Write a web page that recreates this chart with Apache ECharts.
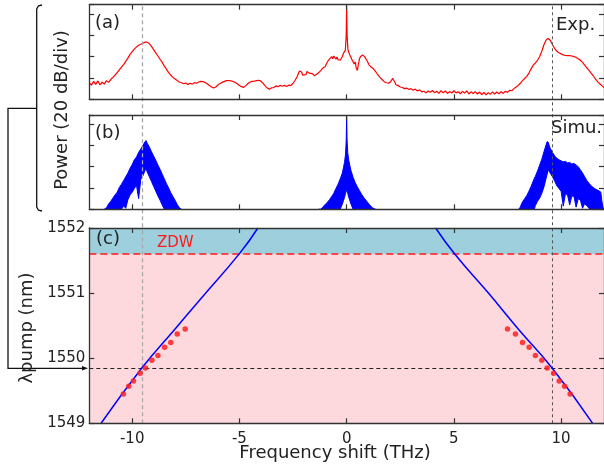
<!DOCTYPE html>
<html><head><meta charset="utf-8">
<script src="https://cdn.jsdelivr.net/npm/echarts@6/dist/echarts.min.js"></script>
<style>html,body{margin:0;padding:0;background:#fff}#c{width:604px;height:470px}</style>
</head><body><div id="c"></div>
<script>
// ---------- data ----------
const xTicks = [-10, -5, 0, 5, 10];
// (a) experimental spectrum: [frequency shift THz, power dB]
const expSpectrum = [
[-12.0,15.5],[-11.9,13.2],[-11.8,16.8],[-11.7,14.0],[-11.6,17.2],[-11.5,13.5],[-11.4,16.0],[-11.3,14.2],[-11.2,17.5],[-11.1,15.8],[-11.0,18.5],
[-10.9,20.5],[-10.8,22.5],[-10.7,25.0],[-10.6,27.5],[-10.5,30.0],[-10.4,32.5],[-10.3,35.5],[-10.2,38.5],[-10.1,42.0],[-10.0,44.5],[-9.9,47.0],[-9.8,49.0],[-9.7,50.5],[-9.6,51.5],[-9.5,52.5],[-9.4,53.5],[-9.35,54.0],[-9.3,53.5],[-9.2,52.0],[-9.1,49.5],[-9.0,46.5],[-8.9,43.5],[-8.8,40.5],[-8.7,37.5],[-8.6,34.5],[-8.5,31.0],[-8.4,28.0],[-8.3,25.0],[-8.2,22.5],[-8.1,20.5],[-8.0,19.0],[-7.9,17.5],[-7.8,16.2],[-7.7,15.5],
[-7.6,14.5],[-7.5,15.2],[-7.4,13.8],[-7.3,15.0],[-7.2,14.2],[-7.1,15.6],[-7.0,15.0],[-6.9,16.2],[-6.8,16.8],[-6.7,16.5],[-6.6,15.8],[-6.5,14.5],[-6.4,13.0],[-6.3,11.5],[-6.2,10.5],[-6.1,11.5],[-6.0,13.5],[-5.9,14.8],[-5.8,15.8],[-5.7,16.8],[-5.6,17.5],[-5.5,17.6],[-5.4,17.3],[-5.3,16.6],[-5.2,15.8],[-5.1,14.5],[-5.0,13.0],[-4.9,11.8],[-4.8,11.2],[-4.7,12.8],[-4.6,14.8],[-4.5,16.2],[-4.4,16.8],[-4.3,17.0],[-4.2,17.5],[-4.1,17.8],[-4.0,17.0],[-3.9,15.0],[-3.8,12.5],[-3.7,10.5],[-3.6,9.5],[-3.5,10.8],[-3.4,11.0],[-3.3,12.5],[-3.2,11.8],[-3.1,13.0],[-3.0,12.2],[-2.9,13.0],[-2.8,12.0],[-2.7,13.2],[-2.6,12.8],[-2.5,15.0],[-2.4,17.8],[-2.3,21.5],[-2.2,26.5],[-2.15,27.5],[-2.1,25.5],[-2.05,22.5],[-2.0,24.0],[-1.9,23.0],[-1.85,26.0],[-1.8,27.5],[-1.75,24.5],[-1.7,23.0],[-1.6,24.0],[-1.5,22.0],[-1.4,23.5],[-1.3,25.0],[-1.2,27.0],[-1.1,29.5],[-1.0,30.5],[-0.95,33.0],[-0.9,34.0],[-0.85,36.5],[-0.8,37.0],[-0.7,40.0],[-0.65,38.0],[-0.6,40.5],[-0.5,37.5],[-0.45,39.5],[-0.4,37.0],[-0.35,38.8],[-0.3,36.5],[-0.25,38.0],[-0.2,40.0],[-0.15,43.0],[-0.1,42.0],[-0.06,46.0],[-0.02,60.0],[0.0,87.0],[0.02,60.0],[0.06,46.5],[0.1,44.0],[0.15,41.5],[0.2,42.5],[0.25,37.0],[0.3,38.5],[0.35,33.0],[0.4,35.0],[0.45,29.0],[0.5,27.0],[0.55,33.0],[0.6,38.0],[0.65,40.0],[0.7,39.0],[0.75,41.5],[0.8,40.0],[0.85,39.5],[0.9,38.0],[0.95,36.0],[1.0,34.5],[1.05,32.0],[1.1,33.0],[1.15,30.0],[1.2,30.5],[1.25,28.5],[1.3,28.0],[1.35,26.0],[1.4,25.5],[1.45,23.0],[1.5,22.5],[1.55,20.5],[1.6,20.5],[1.65,18.5],[1.7,18.0],[1.75,16.5],[1.8,17.0],[1.85,15.5],[1.9,15.8],[1.95,15.0],[2.0,15.5],[2.05,16.5],[2.1,18.0],[2.15,19.5],[2.2,19.0],[2.25,16.0],[2.3,13.5],[2.4,13.0],[2.5,11.5],[2.6,11.0],[2.7,10.0],[2.8,10.5],[2.9,9.2],[3.0,10.0],[3.1,8.5],[3.2,9.5],[3.3,7.8],[3.4,8.8],[3.5,7.0],[3.6,7.5],[3.7,6.0],[3.8,7.8],[3.9,6.5],[4.0,8.2],[4.1,6.2],[4.2,7.5],[4.3,5.5],[4.4,8.0],[4.5,6.0],[4.6,7.8],[4.7,5.5],[4.8,7.2],[4.9,5.8],[5.0,8.0],[5.1,6.0],[5.2,7.0],[5.3,5.2],[5.4,7.5],[5.5,5.8],[5.6,7.8],[5.7,5.0],[5.8,7.0],[5.9,5.5],[6.0,7.2],[6.1,4.8],[6.2,6.8],[6.3,4.5],[6.4,6.5],[6.5,4.2],[6.6,6.2],[6.7,4.8],[6.8,7.0],[6.9,5.0],[7.0,6.8],[7.1,5.2],[7.2,7.0],[7.3,5.5],[7.4,7.5],[7.5,6.5],[7.6,8.5],[7.7,8.0],[7.8,10.0],[7.9,11.5],[8.0,13.0],[8.1,15.0],[8.2,17.5],[8.3,19.5],[8.4,21.5],[8.5,24.5],[8.6,28.5],[8.7,32.0],[8.8,34.0],[8.9,36.5],[9.0,40.0],[9.1,45.0],[9.2,51.0],[9.3,55.5],[9.4,57.0],[9.45,56.5],[9.5,55.0],[9.6,51.0],[9.7,47.5],[9.8,45.0],[9.9,43.5],[10.0,42.5],[10.1,41.5],[10.2,41.0],[10.3,40.8],[10.4,40.8],[10.5,40.5],[10.6,40.0],[10.7,39.2],[10.8,38.0],[10.9,36.5],[11.0,34.5],[11.1,32.0],[11.2,29.5],[11.3,27.0],[11.4,24.5],[11.5,22.0],[11.6,19.0],[11.7,16.5],[11.8,14.5],[11.9,12.8],[12.0,11.0]
];
// (b) simulated spectrum, drawn as the band between the lower and upper envelope of the dense noise
const simLeftFreq  = [-11.3,-11.2,-11.1,-11.0,-10.9,-10.8,-10.7,-10.6,-10.5,-10.4,-10.3,-10.2,-10.1,-10.0,-9.9,-9.8,-9.7,-9.6,-9.5,-9.4,-9.35,-9.3,-9.2,-9.1,-9.0,-8.9,-8.8,-8.7,-8.6,-8.5,-8.4,-8.3,-8.2,-8.1,-8.0,-7.9,-7.8,-7.7];
const simLeftUpper = [-2,1.5,5.0,7.5,10.5,13.5,16.0,20.5,23.5,27.0,30.5,34.0,38.5,42.0,46.5,49.0,53.5,56.5,60.0,63.5,64.5,62.0,58.5,54.0,50.0,46.0,41.5,37.5,33.0,28.5,24.0,20.0,15.5,12.0,8.5,4.5,1.5,-2];
const simLeftLower = [-5,-5,-5,-5,-5,-5,-5,-5,0,3,1,9,13.5,16,19.5,22.5,10,28,31.5,36.5,38,35,30.5,26,21.5,17,12.5,8.5,4,0,-5,-5,-5,-5,-5,-5,-5,-5];
const simCenterFreq  = [-1.3,-1.2,-1.1,-1.0,-0.9,-0.8,-0.7,-0.6,-0.5,-0.4,-0.3,-0.2,-0.15,-0.1,-0.05,-0.02,0.0,0.02,0.05,0.1,0.15,0.2,0.3,0.4,0.5,0.6,0.7,0.8,0.9,1.0,1.1,1.2,1.3,1.35];
const simCenterUpper = [-2,0,2.5,4.5,6.5,9.0,12.0,15.0,19.5,23.5,28.5,34.0,39.0,44.0,52.0,65.0,87.0,65.0,53.0,46.0,41.0,36.5,30.0,25.0,21.0,17.5,14.0,11.0,8.5,6.0,3.5,1.5,0.5,-2];
const simCenterLower = [-5,-5,-5,-5,-5,-5,-5,-5,-5,-5,0,5,8,11,15,17,19,17,15,11,8,5,0,-5,-5,-5,-5,-5,-5,-5,-5,-5,-5,-5];
const simRightFreq  = [8.0,8.05,8.1,8.2,8.3,8.4,8.5,8.6,8.7,8.75,8.8,8.9,9.0,9.1,9.2,9.3,9.35,9.4,9.45,9.5,9.6,9.7,9.8,9.9,10.0,10.1,10.2,10.3,10.4,10.5,10.6,10.7,10.8,10.9,11.0,11.1,11.2,11.3,11.4,11.5,11.6,11.7,11.8,11.85,11.9,11.95,12.0];
const simRightUpper = [-2,0,2.5,7.0,10.0,13.0,17.0,21.5,26.5,29.0,31.0,36.0,41.5,47.0,54.0,60.5,63.5,63.0,59.5,57.0,53.5,50.0,48.0,46.5,45.5,44.5,45.0,43.5,44.0,42.5,43.0,41.5,40.0,37.0,34.0,30.5,27.0,24.5,22.0,20.5,19.0,18.0,17.0,16.0,8.0,2.0,0];
const simRightLower = [-5,-5,-5,-5,-5,-5,-5,-5,-5,0,3.5,7.5,10.5,15.0,21.0,29.0,33.0,36.5,36.0,33.5,30.5,26.5,22.0,19.5,17.0,3.0,14.5,13.5,4.0,12.5,12.0,2.0,10.0,8.5,1.0,5.5,3.0,1.0,-2,-5,-5,-5,-5,-5,-5,-5,-5];
// (c) phase matching: pump wavelength vs frequency shift
const curveLeftFreq  = [-11.45,-9.55,-8.0,-6.86,-4.99,-4.14];
const curveLeftWl    = [1549.0,1549.85,1550.45,1550.89,1551.61,1552.0];
const curveRightFreq = [4.15,5.04,6.61,8.0,9.58,11.47];
const curveRightWl   = [1552.0,1551.6,1551.0,1550.45,1549.85,1549.0];
const dotsWl        = [1550.45,1550.37,1550.24,1550.17,1550.04,1549.97,1549.85,1549.77,1549.65,1549.57,1549.45];
const dotsLeftFreq  = [-7.53,-7.90,-8.20,-8.49,-8.80,-9.08,-9.38,-9.63,-9.94,-10.16,-10.41];
const dotsRightFreq = [7.50,7.87,8.20,8.51,8.80,9.10,9.35,9.65,9.91,10.16,10.42];
const zdwWl = 1551.6;
const pumpWl = 1549.85;
const markerFreq = [-9.55, 9.58];
const powerRange = [0, 88.5];
const wlRange = [1549, 1552];

// ---------- chart ----------
const AX = '#333', TXT = '#222', FONT = 'DejaVu Sans';
const L = 89.3, gridTops = [4.7, 115, 228], gridHeights = [94.6, 94.3, 195.3];

function xa(g, pos, labels){
  return {type:'value', gridIndex:g, position:pos, min:-12, max:12, z:10,
    axisLine:{show:true, onZero:false, lineStyle:{color:AX, width:1.3}},
    axisTick:{show:true, inside:true, length:5, customValues:xTicks, lineStyle:{color:AX, width:1.2}},
    axisLabel:{show:labels, customValues:xTicks, color:TXT, fontSize:15, fontFamily:FONT, margin:8, formatter:v=>String(v)},
    splitLine:{show:false}};
}
function ya(g, pos, min, max, interval, labels){
  return {type:'value', gridIndex:g, position:pos, min:min, max:max, interval:interval, z:10,
    axisLine:{show:true, onZero:false, lineStyle:{color:AX, width:1.3}},
    axisTick:{show:true, inside:true, length:5, lineStyle:{color:AX, width:1.2}},
    axisLabel:{show:labels, color:TXT, fontSize:15, fontFamily:FONT, margin:4, formatter:v=>String(v)},
    splitLine:{show:false}};
}
const grids = gridTops.map((t,i)=>({left:L, right:0, top:t, height:gridHeights[i], outerBoundsMode:'none', containLabel:false}));
grids.push({left:L, right:0, top:gridTops[0], height:gridTops[2]+gridHeights[2]-gridTops[0], outerBoundsMode:'none', containLabel:false});

const xAxis = [xa(0,'bottom',false), xa(0,'top',false), xa(1,'bottom',false), xa(1,'top',false), xa(2,'bottom',true), xa(2,'top',false),
  {type:'value', gridIndex:3, min:-12, max:12, show:false}];
const yAxis = [ya(0,'left',powerRange[0],powerRange[1],20,false), ya(0,'right',powerRange[0],powerRange[1],20,false),
  ya(1,'left',powerRange[0],powerRange[1],20,false), ya(1,'right',powerRange[0],powerRange[1],20,false),
  ya(2,'left',wlRange[0],wlRange[1],1,true), ya(2,'right',wlRange[0],wlRange[1],1,false),
  {type:'value', gridIndex:3, min:0, max:1, show:false}];

// band between the lower and upper envelope, drawn as one polygon through the axis scales
function band(xs, lo, hi){
  const clampV = v => Math.min(Math.max(v, powerRange[0]), powerRange[1]);
  return {type:'custom', xAxisIndex:2, yAxisIndex:2, z:3, clip:true, data:[[xs[0], hi[0]]],
    renderItem:(params, api)=>{
      const pts = [];
      xs.forEach((x,i)=>pts.push(api.coord([x, clampV(hi[i])])));
      for (let i = xs.length-1; i >= 0; i--) pts.push(api.coord([xs[i], clampV(lo[i])]));
      return {type:'polygon', shape:{points:pts}, style:{fill:'#0000ff', stroke:'#0000ff', lineWidth:1}};
    }};
}

const series = [
  {type:'line', xAxisIndex:0, yAxisIndex:0, data:expSpectrum, symbol:'none', lineStyle:{color:'#ff0000', width:1.2}, z:3},
  band(simLeftFreq, simLeftLower, simLeftUpper),
  band(simCenterFreq, simCenterLower, simCenterUpper),
  band(simRightFreq, simRightLower, simRightUpper),
  {type:'line', xAxisIndex:4, yAxisIndex:4, data:[], symbol:'none', z:1, silent:true,
    markArea:{silent:true, data:[
      [{yAxis:zdwWl, itemStyle:{color:'#9dcfdc'}}, {yAxis:wlRange[1]}],
      [{yAxis:wlRange[0], itemStyle:{color:'#fdd9de'}}, {yAxis:zdwWl}]
    ]},
    markLine:{silent:true, symbol:'none', label:{show:false}, data:[
      {yAxis:zdwWl, lineStyle:{color:'#ff1a1a', type:[7,4], width:1.6}},
      {yAxis:pumpWl, lineStyle:{color:'#222', type:[4,3], width:1}}
    ]}},
  {type:'line', xAxisIndex:4, yAxisIndex:4, data:curveLeftFreq.map((x,i)=>[x,curveLeftWl[i]]), symbol:'none', smooth:0.5,
    lineStyle:{color:'#0000ff', width:1.5}, z:5},
  {type:'line', xAxisIndex:4, yAxisIndex:4, data:curveRightFreq.map((x,i)=>[x,curveRightWl[i]]), symbol:'none', smooth:0.5,
    lineStyle:{color:'#0000ff', width:1.5}, z:5},
  {type:'scatter', xAxisIndex:4, yAxisIndex:4, data:dotsLeftFreq.map((x,i)=>[x,dotsWl[i]]), symbolSize:5.5,
    itemStyle:{color:'#ff2020', opacity:0.85}, z:6},
  {type:'scatter', xAxisIndex:4, yAxisIndex:4, data:dotsRightFreq.map((x,i)=>[x,dotsWl[i]]), symbolSize:5.5,
    itemStyle:{color:'#ff2020', opacity:0.85}, z:6},
  {type:'line', xAxisIndex:6, yAxisIndex:6, data:[[0,0]], symbol:'none', lineStyle:{opacity:0}, z:8,
    markLine:{silent:true, symbol:'none', label:{show:false}, data:[
      {xAxis:markerFreq[0], lineStyle:{color:'#a8a8a8', type:[4,3], width:1.3}},
      {xAxis:markerFreq[1], lineStyle:{color:'#555', type:[3,3], width:1}}
    ]}}
];

function txt(s, x, y, size, opts){
  return Object.assign({type:'text', x:x, y:y, z:20, style:Object.assign({text:s, fill:TXT, font:size+'px "'+FONT+'"', align:'left', verticalAlign:'middle'}, (opts&&opts.style)||{})}, (opts&&opts.el)||{});
}
const graphic = [
  txt('(a)', 95, 23, 18),
  txt('(b)', 95, 133, 18),
  txt('(c)', 96, 239, 18),
  txt('Exp.', 556, 25, 18),
  txt('Simu.', 551, 128, 18),
  txt('ZDW', 157, 243, 15, {style:{fill:'#ff1a1a'}}),
  txt('Frequency shift (THz)', 335, 453, 18, {style:{align:'center'}}),
  txt('Power (20 dB/div)', 62, 110, 18, {style:{align:'center'}, el:{rotation:Math.PI/2}}),
  txt('λpump (nm)', 27, 328, 18, {style:{align:'center'}, el:{rotation:Math.PI/2}}),
  {type:'polyline', z:20, shape:{points:[[42,5],[38.5,5.8],[36.7,9],[36.7,207],[38.5,210.2],[42,211]]}, style:{stroke:'#111', lineWidth:1.3, fill:null}},
  {type:'polyline', z:20, shape:{points:[[36.7,108.3],[8,108.3],[8,368.3],[84,368.3]]}, style:{stroke:'#111', lineWidth:1.3, fill:null}},
  {type:'polygon', z:20, shape:{points:[[82,366],[88,368.3],[82,370.6]]}, style:{fill:'#111'}}
];

const chart = echarts.init(document.getElementById('c'), null, {renderer:'canvas'});
chart.setOption({animation:false, backgroundColor:'#fff', grid:grids, xAxis:xAxis, yAxis:yAxis, series:series, graphic:graphic});
</script></body></html>
